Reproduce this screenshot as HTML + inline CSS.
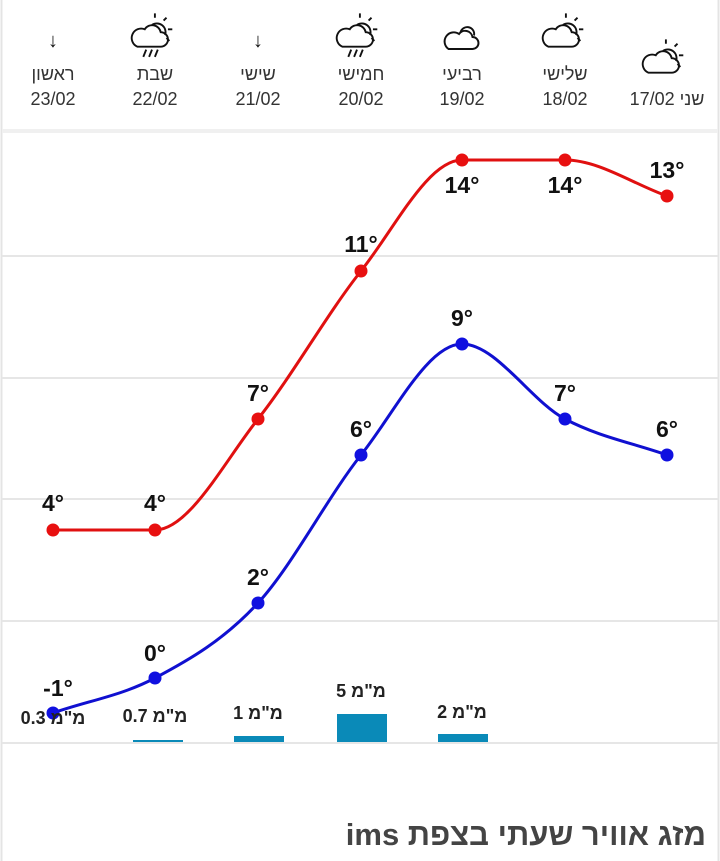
<!DOCTYPE html>
<html><head><meta charset="utf-8"><style>
body{margin:0;width:720px;height:861px;background:#fff;overflow:hidden;font-family:"Liberation Sans","Noto Sans CJK SC",sans-serif}
</style></head><body>
<svg width="720" height="861" xmlns="http://www.w3.org/2000/svg" style="position:absolute;left:0;top:0">
<line x1="1.5" y1="0" x2="1.5" y2="861" stroke="#e4e4e4" stroke-width="2"/>
<line x1="718.5" y1="0" x2="718.5" y2="861" stroke="#e4e4e4" stroke-width="2"/>
<rect x="2" y="129" width="716" height="4" fill="#f0f0f0"/>
<g stroke="#e6e6e6" stroke-width="2">
<line x1="2" y1="256" x2="718" y2="256"/><line x1="2" y1="378" x2="718" y2="378"/>
<line x1="2" y1="499" x2="718" y2="499"/><line x1="2" y1="621" x2="718" y2="621"/>
<line x1="2" y1="743" x2="718" y2="743"/></g>
<g font-size="18" fill="#333" text-anchor="middle" direction="rtl">
<text x="53" y="80">ראשון</text><text x="53" y="105">23/02</text>
<text x="155" y="80">שבת</text><text x="155" y="105">22/02</text>
<text x="258" y="80">שישי</text><text x="258" y="105">21/02</text>
<text x="361" y="80">חמישי</text><text x="361" y="105">20/02</text>
<text x="462" y="80">רביעי</text><text x="462" y="105">19/02</text>
<text x="565" y="80">שלישי</text><text x="565" y="105">18/02</text>
<text x="667" y="105">שני 17/02</text>
</g>
<g font-size="20" fill="#111" text-anchor="middle" font-weight="bold"><text x="53" y="47">↓</text><text x="258" y="47">↓</text></g>
<g fill="none" stroke="#111" stroke-width="1.3">
<g transform="translate(462,40) scale(1.5)"><path d="M-9 6 h16 a4 4 0 0 0 0-8 a5 5 0 0 0-9-2 a4 4 0 0 0-7 10z"/><path d="M-1 -5 a4 4 0 0 1 9 2"/></g>
<g transform="translate(563,38) scale(1.45)"><path d="M-10 6 h16 a5 5 0 0 0 0-10 a6 6 0 0 0-11-2 a5 5 0 0 0-5 12z"/><path d="M0 -9 a6 6 0 0 1 9 7"/><path d="M2 -14v-3M8 -12l2-2M11 -6h3M10 0l2 2"/></g>
<g transform="translate(663,64) scale(1.45)"><path d="M-10 6 h16 a5 5 0 0 0 0-10 a6 6 0 0 0-11-2 a5 5 0 0 0-5 12z"/><path d="M0 -9 a6 6 0 0 1 9 7"/><path d="M2 -14v-3M8 -12l2-2M11 -6h3M10 0l2 2"/></g>
<g transform="translate(152,38) scale(1.45)"><path d="M-10 6 h16 a5 5 0 0 0 0-10 a6 6 0 0 0-11-2 a5 5 0 0 0-5 12z"/><path d="M0 -9 a6 6 0 0 1 9 7"/><path d="M2 -14v-3M8 -12l2-2M11 -6h3M10 0l2 2"/><path d="M-4 8l-2 5M0 8l-2 5M4 8l-2 5"/></g>
<g transform="translate(357,38) scale(1.45)"><path d="M-10 6 h16 a5 5 0 0 0 0-10 a6 6 0 0 0-11-2 a5 5 0 0 0-5 12z"/><path d="M0 -9 a6 6 0 0 1 9 7"/><path d="M2 -14v-3M8 -12l2-2M11 -6h3M10 0l2 2"/><path d="M-4 8l-2 5M0 8l-2 5M4 8l-2 5"/></g>
</g>
<g fill="#0a8ab8">
<rect x="133" y="740" width="50" height="2"/><rect x="234" y="736" width="50" height="6"/>
<rect x="337" y="714" width="50" height="28"/><rect x="438" y="734" width="50" height="8"/>
</g>
<path d="M53 530 C87 530 121 530 155 530 C189 530 224 462 258 419 C292 376 327 314 361 271 C395 228 428 160 462 160 C496 160 531 160 565 160 C599 160 633 184 667 196" fill="none" stroke="#e01010" stroke-width="3"/>
<path d="M53 713 C87 701 121 696 155 678 C189 660 224 640 258 603 C292 566 327 498 361 455 C395 412 428 344 462 344 C496 344 531 401 565 419 C599 437 633 443 667 455" fill="none" stroke="#1010d0" stroke-width="3"/>
<g fill="#e81010"><circle cx="53" cy="530" r="6.5"/><circle cx="155" cy="530" r="6.5"/><circle cx="258" cy="419" r="6.5"/><circle cx="361" cy="271" r="6.5"/><circle cx="462" cy="160" r="6.5"/><circle cx="565" cy="160" r="6.5"/><circle cx="667" cy="196" r="6.5"/></g>
<g fill="#1010e0"><circle cx="53" cy="713" r="6.5"/><circle cx="155" cy="678" r="6.5"/><circle cx="258" cy="603" r="6.5"/><circle cx="361" cy="455" r="6.5"/><circle cx="462" cy="344" r="6.5"/><circle cx="565" cy="419" r="6.5"/><circle cx="667" cy="455" r="6.5"/></g>
<g font-size="23" font-weight="bold" fill="#111" text-anchor="middle">
<text x="53" y="511">4°</text><text x="155" y="511">4°</text><text x="258" y="401">7°</text><text x="361" y="252">11°</text><text x="462" y="193">14°</text><text x="565" y="193">14°</text><text x="667" y="178">13°</text>
<text x="58" y="696">-1°</text><text x="155" y="661">0°</text><text x="258" y="585">2°</text><text x="361" y="437">6°</text><text x="462" y="326">9°</text><text x="565" y="401">7°</text><text x="667" y="437">6°</text>
</g>
<g font-size="18" font-weight="bold" fill="#222" text-anchor="middle">
<text x="53" y="724">&#x202D;0.3 מ"מ&#x202C;</text><text x="155" y="722">&#x202D;0.7 מ"מ&#x202C;</text><text x="258" y="719">&#x202D;1 מ"מ&#x202C;</text><text x="361" y="697">&#x202D;5 מ"מ&#x202C;</text><text x="462" y="718">&#x202D;2 מ"מ&#x202C;</text>
</g>
<text x="706" y="845" text-anchor="start" direction="rtl" font-size="31" font-weight="bold" fill="#444">מזג אוויר שעתי בצפת ims</text>
</svg>
</body></html>
